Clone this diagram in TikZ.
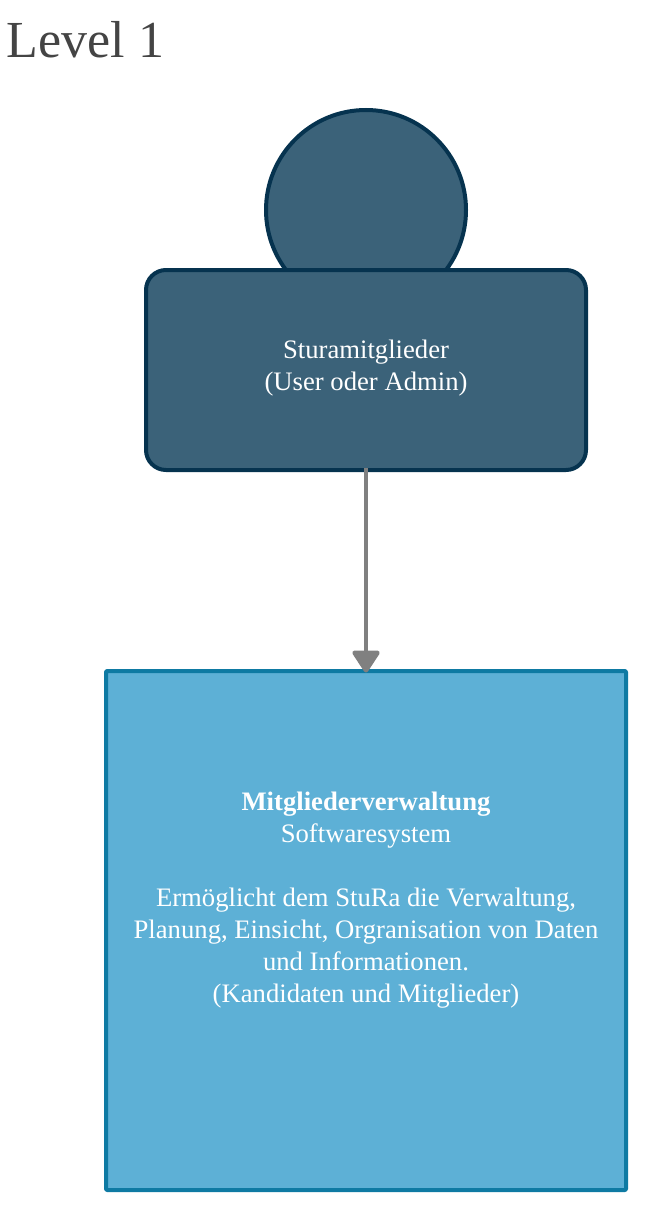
\documentclass[tikz,border=0pt]{standalone}
\usepackage{fontspec}
\setmainfont{Liberation Serif}
\usetikzlibrary{arrows.meta}
\definecolor{persondark}{HTML}{3B6279}
\definecolor{personline}{HTML}{06334F}
\definecolor{systemblue}{HTML}{5DB0D6}
\definecolor{systemline}{HTML}{0E7AA3}
\definecolor{arrowgray}{HTML}{808080}
\definecolor{titlegray}{HTML}{444444}
\tikzset{
	person/.style={draw=personline, fill=persondark, line width=4pt, outer sep=0pt, inner sep=0pt},
	softsystem/.style={draw=systemline, fill=systemblue, line width=4pt, outer sep=0pt, inner sep=0pt, rounded corners=1pt},
	boxtext/.style={text=white, align=center, inner sep=0pt, font=\fontsize{26.67}{32}\selectfont},
	flow/.style={draw=arrowgray, line width=4.5pt, -{Triangle[width=30pt,length=24pt,round]}}
}
\begin{document}
\begin{tikzpicture}[x=1pt, y=-1pt, line join=round]
	\useasboundingbox (0,0) rectangle (648,1206);
	\node[anchor=base west, inner sep=0pt, text=titlegray, font=\fontsize{52}{62}\selectfont] (title) at (6.5,58) {Level 1};
	\node[person, circle, minimum size=200pt] (head) at (366,210) {};
	\node[person, rounded corners=20pt, minimum width=440pt, minimum height=200pt] (user) at (366,370) {};
	\node[softsystem, minimum width=520pt, minimum height=519pt] (system) at (366,930.5) {};
	\node[boxtext] (usertext) at (366,368) {Sturamitglieder\\(User oder Admin)};
	\node[boxtext] (systemtext) at (366,900) {\textbf{Mitgliederverwaltung}\\Softwaresystem\\~\\Ermöglicht dem StuRa die Verwaltung,\\Planung, Einsicht, Orgranisation von Daten\\und Informationen.\\(Kandidaten und Mitglieder)};
	\draw[flow, shorten <=-2pt, shorten >=-1.5pt] (user.south) -- (system.north);
\end{tikzpicture}
\end{document}
